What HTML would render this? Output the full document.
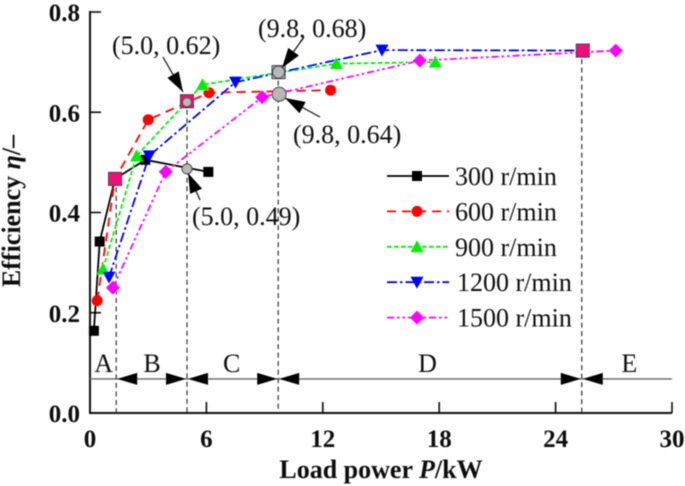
<!DOCTYPE html>
<html>
<head>
<meta charset="utf-8">
<style>
html,body{margin:0;padding:0;background:#fff;}
svg{display:block;}
text{font-family:"Liberation Serif",serif;fill:#111;}
.tick{font-weight:bold;font-size:25px;}
.title{font-weight:bold;font-size:26px;}
.note{font-size:26px;}
.leg{font-size:26px;}
.zone{font-size:26px;}
</style>
</head>
<body>
<svg id="chart" width="685" height="486" viewBox="0 0 685 486" xmlns="http://www.w3.org/2000/svg">
  <defs>
    <filter id="soft" x="-5%" y="-5%" width="110%" height="110%"><feGaussianBlur stdDeviation="0.4"/></filter>
  </defs>
  <g id="layer" filter="url(#soft)"></g>
</svg>
<script>
const xTicks = [0, 6, 12, 18, 24, 30];
const yTicks = ["0.0", "0.2", "0.4", "0.6", "0.8"];

const power300 = [0.2, 0.5, 1.29, 2.85, 6.1];
const eff300 = [0.164, 0.342, 0.467, 0.505, 0.481];
const power600 = [0.37, 1.29, 3.0, 6.13, 12.4];
const eff600 = [0.224, 0.467, 0.585, 0.639, 0.644];
const power900 = [0.67, 2.4, 5.8, 12.7, 17.8];
const eff900 = [0.287, 0.513, 0.655, 0.697, 0.70];
const power1200 = [0.98, 3.05, 7.5, 15.05, 25.4];
const eff1200 = [0.271, 0.513, 0.66, 0.724, 0.723];
const power1500 = [1.18, 3.9, 8.87, 17.0, 27.1];
const eff1500 = [0.25, 0.481, 0.63, 0.703, 0.723];

const seriesNames = ["300 r/min", "600 r/min", "900 r/min", "1200 r/min", "1500 r/min"];
const zoneLabels = ["A", "B", "C", "D", "E"];
const zoneLabelPower = [0.7, 3.2, 7.3, 17.4, 27.8];
const zoneBoundaries = [1.35, 5.0, 9.7, 25.35];
const optimumPower = [1.29, 5.0, 9.72, 25.4];
const optimumEff = [0.467, 0.622, 0.68, 0.723];

const ns = "http://www.w3.org/2000/svg";
const layer = document.getElementById("layer");
const X = v => 90 + v * (672 - 90) / 30;
const Y = v => 413 - v * (413 - 12) / 0.8;

function make(tag, attrs, text) {
  const el = document.createElementNS(ns, tag);
  for (const k in attrs) el.setAttribute(k, attrs[k]);
  if (text !== undefined) el.textContent = text;
  layer.appendChild(el);
  return el;
}

function linePath(px, py) {
  return px.map(function (x, i) { return (i ? "L" : "M") + x + " " + py[i]; }).join(" ");
}

function marker(kind, cx, cy, color) {
  let el;
  if (kind === 0) el = make("rect", {x: cx - 5, y: cy - 5, width: 10, height: 10, fill: color});
  if (kind === 1) el = make("circle", {cx: cx, cy: cy, r: 5.5, fill: color});
  if (kind === 2) el = make("polygon", {points: (cx - 6.5) + "," + (cy + 5.5) + " " + (cx + 6.5) + "," + (cy + 5.5) + " " + cx + "," + (cy - 6.5), fill: color});
  if (kind === 3) el = make("polygon", {points: (cx - 6.5) + "," + (cy - 5.5) + " " + (cx + 6.5) + "," + (cy - 5.5) + " " + cx + "," + (cy + 6.5), fill: color});
  if (kind === 4) el = make("polygon", {points: (cx - 7) + "," + cy + " " + cx + "," + (cy - 7) + " " + (cx + 7) + "," + cy + " " + cx + "," + (cy + 7), fill: color});
  return el;
}

function arrowHead(tipX, tipY, tailX, tailY, len, half) {
  const dx = tailX - tipX, dy = tailY - tipY, L = Math.hypot(dx, dy);
  const ux = dx / L, uy = dy / L;
  const bx = tipX + ux * len, by = tipY + uy * len;
  return tipX + "," + tipY + " " + (bx - uy * half) + "," + (by + ux * half) + " " + (bx + uy * half) + "," + (by - ux * half);
}

/* axes */
const xAxis = make("line", {x1: X(0), y1: Y(0), x2: X(30), y2: Y(0), stroke: "#111", "stroke-width": 2});


const yAxis = make("line", {x1: X(0), y1: Y(0) + 1, x2: X(0), y2: Y(0.8) - 1, stroke: "#111", "stroke-width": 2});



xTicks.forEach(function (t) {
  const tick = make("line", {x1: X(t), y1: Y(0), x2: X(t), y2: Y(0) - 11, stroke: "#111", "stroke-width": 1.6});
  
  
  const label = make("text", {x: X(t), y: 447, "text-anchor": "middle", class: "tick"}, String(t));
  
  
});
yTicks.forEach(function (t) {
  const v = parseFloat(t);
  const tick = make("line", {x1: X(0), y1: Y(v), x2: X(0) + 11, y2: Y(v), stroke: "#111", "stroke-width": 1.6});
  
  
  const label = make("text", {x: 80, y: Y(v) + 9, "text-anchor": "end", class: "tick"}, t);
  
  
});

/* axis titles */
const xTitle = make("text", {x: 381, y: 478, "text-anchor": "middle", class: "title"});


xTitle.innerHTML = 'Load power <tspan font-style="italic">P</tspan>/kW';
const yTitle = make("text", {x: 0, y: 0, "text-anchor": "middle", class: "title", transform: "translate(20,211) rotate(-90)"});


yTitle.innerHTML = 'Efficiency <tspan font-style="italic">η</tspan>/–';

/* zone divider line and boundaries */
const zoneY = 0.068;
const zoneLine = make("line", {x1: X(0), y1: Y(zoneY), x2: X(30), y2: Y(zoneY), stroke: "#666", "stroke-width": 1.4});



optimumPower.forEach(function (p, i) {
  const guide = make("line", {x1: X(zoneBoundaries[i]), y1: Y(optimumEff[i]), x2: X(zoneBoundaries[i]), y2: Y(0), stroke: "#333", "stroke-width": 1.2, "stroke-dasharray": "5 3.5"});
  
  
});

zoneBoundaries.forEach(function (b, i) {
  const cx = X(b), cy = Y(zoneY);
  const leftGap = i === 0 ? null : make("polygon", {points: (cx - 1) + "," + cy + " " + (cx - 21) + "," + (cy - 6) + " " + (cx - 21) + "," + (cy + 6), fill: "#000"});
  if (leftGap) {
    
    
  }
  const right = make("polygon", {points: (cx + 1) + "," + cy + " " + (cx + 21) + "," + (cy - 6) + " " + (cx + 21) + "," + (cy + 6), fill: "#000"});
  
  
});
zoneLabels.forEach(function (z, i) {
  const t = make("text", {x: X(zoneLabelPower[i]), y: 372, "text-anchor": "middle", class: "zone"}, z);
  
  
});

/* series */
const seriesX = [power300, power600, power900, power1200, power1500];
const seriesY = [eff300, eff600, eff900, eff1200, eff1500];
const colors = ["#000000", "#ff0000", "#00ee00", "#0000ff", "#ff00ff"];
const dashes = ["none", "9 6", "4.5 2.5", "10 3 2.5 3", "7 3 2.5 3 2.5 3"];

seriesX.forEach(function (xs, s) {
  const px = xs.map(X), py = seriesY[s].map(Y);
  const line = make("path", {d: linePath(px, py), fill: "none", stroke: colors[s], "stroke-width": 1.8, "stroke-dasharray": dashes[s]});
  
  
});

seriesX.forEach(function (xs, s) {
  xs.forEach(function (x, i) {
    if (s === 3 && i === xs.length - 1) return;
    const m = marker(s, X(x), Y(seriesY[s][i]), colors[s]);
    
    
  });
});

/* optimum squares on top of the markers */
optimumPower.forEach(function (p, i) {
  const sq = make("rect", {x: X(p) - 6.5, y: Y(optimumEff[i]) - 6.5, width: 13, height: 13, fill: i === 2 ? "#b0b0b0" : "#f0087a", stroke: "#333", "stroke-width": 1});
  
  
});

/* annotations */
const notePower = [5.0, 9.72, 9.75, 5.0];
const noteEff = [0.62, 0.68, 0.636, 0.487];
const noteText = ["(5.0, 0.62)", "(9.8, 0.68)", "(9.8, 0.64)", "(5.0, 0.49)"];
const noteRadius = [4.5, 6, 7, 5];
noteText.forEach(function (txt, i) {
  const c = make("circle", {cx: X(notePower[i]), cy: Y(noteEff[i]), r: noteRadius[i], fill: "#b8b8b8", stroke: "#333", "stroke-width": 1});
  
  
});

const noteLabelX = [112, 258, 293, 192];
const noteLabelY = [54, 37, 143, 225];
const noteTailX = [163, 304, 320, 200];
const noteTailY = [57, 37, 117, 200];
const noteTipX = [183, 282, 285, 188];
const noteTipY = [92, 68, 98, 173];
noteText.forEach(function (txt, i) {
  const shaft = make("line", {x1: noteTailX[i], y1: noteTailY[i], x2: noteTipX[i], y2: noteTipY[i], stroke: "#111", "stroke-width": 1.2});
  
  
  const head = make("polygon", {points: arrowHead(noteTipX[i], noteTipY[i], noteTailX[i], noteTailY[i], 20, 6.5), fill: "#000"});
  
  
  const label = make("text", {x: noteLabelX[i], y: noteLabelY[i], class: "note"}, txt);
  
  
});

/* legend */
seriesNames.forEach(function (name, s) {
  const ly = 176 + s * 35.4;
  const line = make("line", {x1: 387, y1: ly, x2: 449, y2: ly, stroke: colors[s], "stroke-width": 1.8, "stroke-dasharray": dashes[s]});
  
  
  const m = marker(s, 417, ly, colors[s]);
  
  
  const t = make("text", {x: s < 3 ? 455 : 457, y: ly + 9, class: "leg"}, name);
  
  
});
</script>
</body>
</html>
